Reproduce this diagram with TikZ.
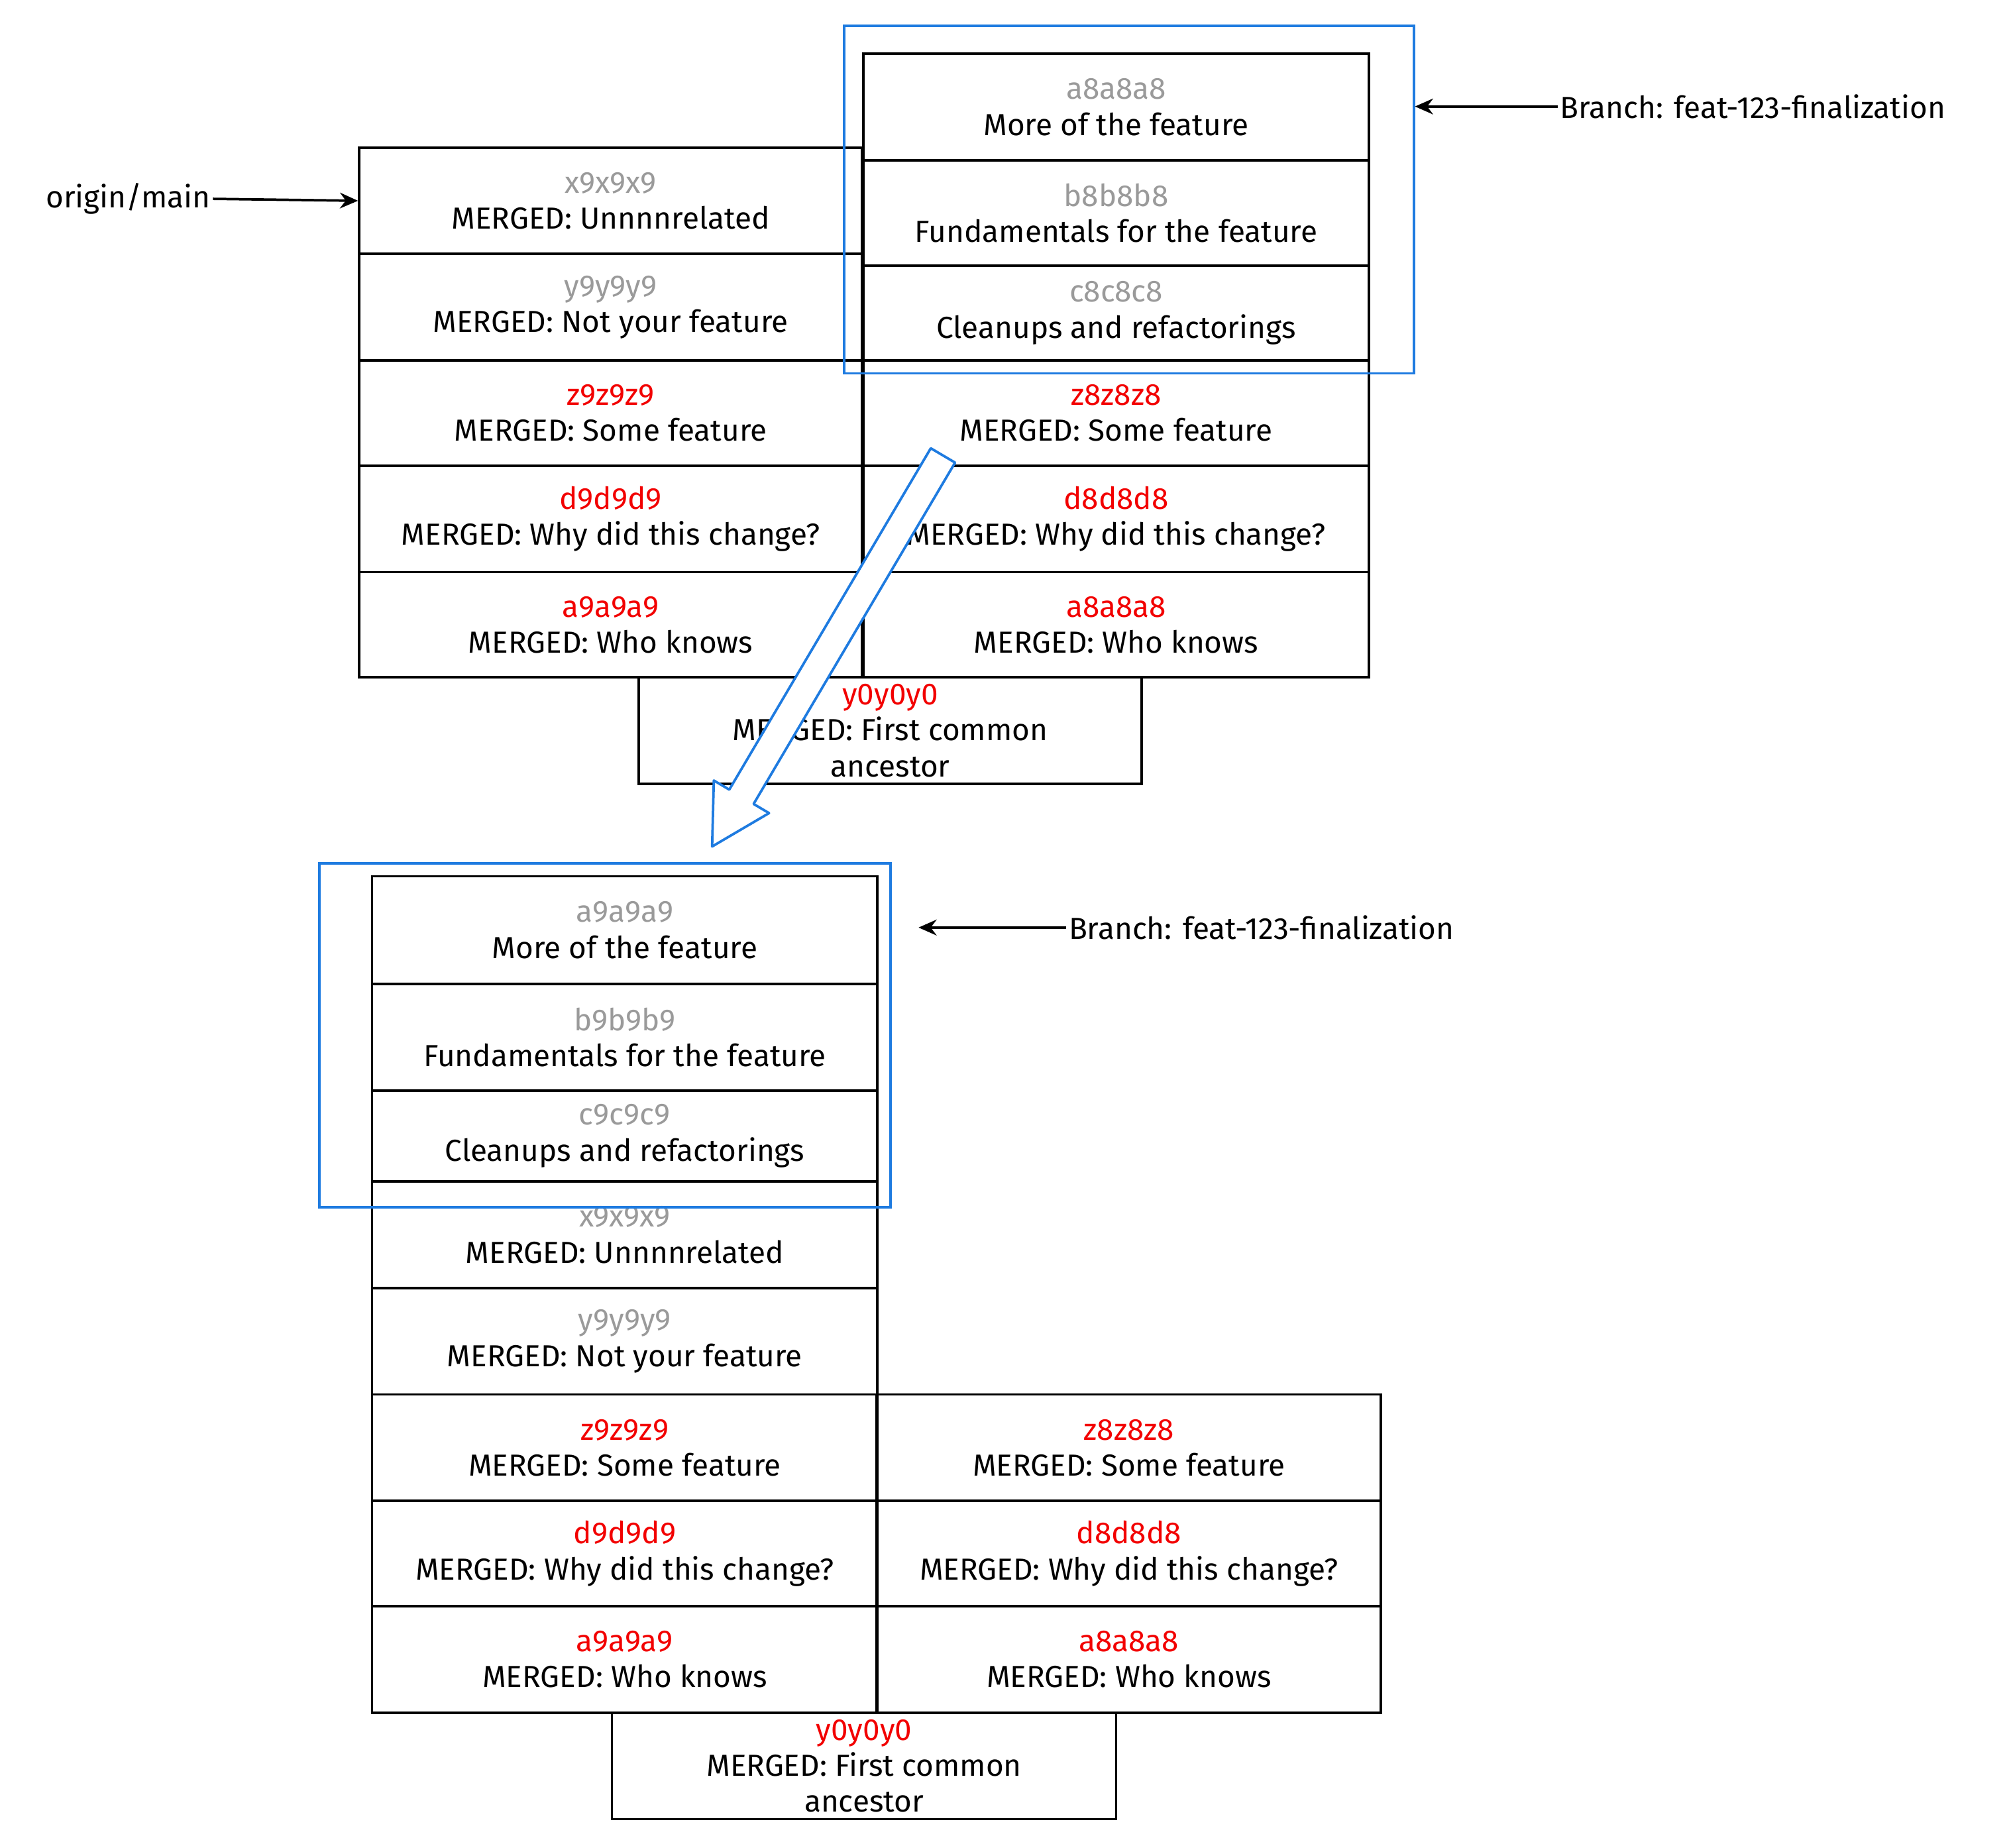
\documentclass[tikz,border=0pt]{standalone}
\usepackage{fontspec}
\setmainfont{Fira Sans}
\usetikzlibrary{arrows.meta}
\definecolor{exblue}{HTML}{1E7BE0}
\definecolor{hashgray}{HTML}{9A9A9A}
\definecolor{hashred}{HTML}{F20000}
\tikzset{
  box/.style={draw=black, line width=1.1pt, inner sep=0pt, align=center,
    font=\fontsize{13.5}{16}\selectfont},
  lbl/.style={font=\fontsize{13.5}{16}\selectfont, inner sep=1pt},
  ptr/.style={-{Stealth[length=8pt,width=7pt]}, line width=1.1pt},
  sel/.style={draw=exblue, line width=1.1pt},
}
% name, center, width, height, colour, hash, message
\newcommand\commitbox[7]{%
  \node[box, minimum width={(#3)*0.02cm}, minimum height={(#4)*0.02cm}] (#1) at (#2)
    {\textcolor{#5}{#6}\\#7};}
\begin{document}
\begin{tikzpicture}[x=0.02cm,y=-0.02cm]
\useasboundingbox (0,0) rectangle (1566,1440);
% ---------- top: left column
\commitbox{tx9}{476,156.5}{392}{83}{hashgray}{x9x9x9}{MERGED: Unnnnrelated}
\commitbox{ty9}{476,239.5}{392}{83}{hashgray}{y9y9y9}{MERGED: Not your feature}
\commitbox{tz9}{476,322}{392}{82}{hashred}{z9z9z9}{MERGED: Some feature}
\commitbox{td9}{476,404.5}{392}{83}{hashred}{d9d9d9}{MERGED: Why did this change?}
\commitbox{ta9}{476,487}{392}{82}{hashred}{a9a9a9}{MERGED: Who knows}
% ---------- top: right column
\commitbox{ta8f}{870,83.5}{394}{83}{hashgray}{a8a8a8}{More of the feature}
\commitbox{tb8}{870,166}{394}{82}{hashgray}{b8b8b8}{Fundamentals for the feature}
\commitbox{tc8}{870,244}{394}{74}{hashgray}{c8c8c8}{Cleanups and refactorings}
\commitbox{tz8}{870,322}{394}{82}{hashred}{z8z8z8}{MERGED: Some feature}
\commitbox{td8}{870,404.5}{394}{83}{hashred}{d8d8d8}{MERGED: Why did this change?}
\commitbox{ta8}{870,487}{394}{82}{hashred}{a8a8a8}{MERGED: Who knows}
\node[box, minimum width={392*0.02cm}, minimum height={83*0.02cm}] (ty0) at (694,569.5)
  {\textcolor{hashred}{y0y0y0}\\MERGED: First common\\ancestor};
\node[sel, minimum width={444*0.02cm}, minimum height={271*0.02cm}, inner sep=0pt] (tsel) at (880,155.5) {};
% labels
\node[lbl, anchor=east] (om) at (166,155) {origin/main};
\draw[ptr] (om.east) -- (tx9.west);
\node[lbl, anchor=west] (tbr) at (1214,83) {Branch: feat-123-finalization};
\draw[ptr] (tbr.west) -- (tsel.east |- tbr.west);
% fat hollow arrow
\begin{scope}[shift={(735,355)}, x=0.02cm, y=0.02cm, rotate=-120.55]
  \draw[exblue, line width=1.1pt, fill=white, line join=round]
    (0,11) -- (309,11) -- (309,25) -- (354,0) -- (309,-25) -- (309,-11) -- (0,-11) -- cycle;
\end{scope}
% ---------- bottom: left column
\commitbox{ba9f}{487,725}{394}{84}{hashgray}{a9a9a9}{More of the feature}
\commitbox{bb9}{487,808.5}{394}{83}{hashgray}{b9b9b9}{Fundamentals for the feature}
\commitbox{bc9}{487,885.5}{394}{71}{hashgray}{c9c9c9}{Cleanups and refactorings}
\commitbox{bx9}{487,962.5}{394}{83}{hashgray}{x9x9x9}{MERGED: Unnnnrelated}
\commitbox{by9}{487,1045.5}{394}{83}{hashgray}{y9y9y9}{MERGED: Not your feature}
\commitbox{bz9}{487,1128.5}{394}{83}{hashred}{z9z9z9}{MERGED: Some feature}
\commitbox{bd9}{487,1211}{394}{82}{hashred}{d9d9d9}{MERGED: Why did this change?}
\commitbox{ba9}{487,1293.5}{394}{83}{hashred}{a9a9a9}{MERGED: Who knows}
% bottom: right column
\commitbox{bz8}{880,1128.5}{393}{83}{hashred}{z8z8z8}{MERGED: Some feature}
\commitbox{bd8}{880,1211}{393}{82}{hashred}{d8d8d8}{MERGED: Why did this change?}
\commitbox{ba8}{880,1293.5}{393}{83}{hashred}{a8a8a8}{MERGED: Who knows}
\node[box, minimum width={393*0.02cm}, minimum height={83*0.02cm}] (by0) at (673.5,1376.5)
  {\textcolor{hashred}{y0y0y0}\\MERGED: First common\\ancestor};
\node[sel, minimum width={445*0.02cm}, minimum height={268*0.02cm}, inner sep=0pt] (bsel) at (471.5,807) {};
\node[lbl, anchor=west] (bbr) at (831,723) {Branch: feat-123-finalization};
\draw[ptr] (bbr.west) -- (716,723);
\end{tikzpicture}
\end{document}
